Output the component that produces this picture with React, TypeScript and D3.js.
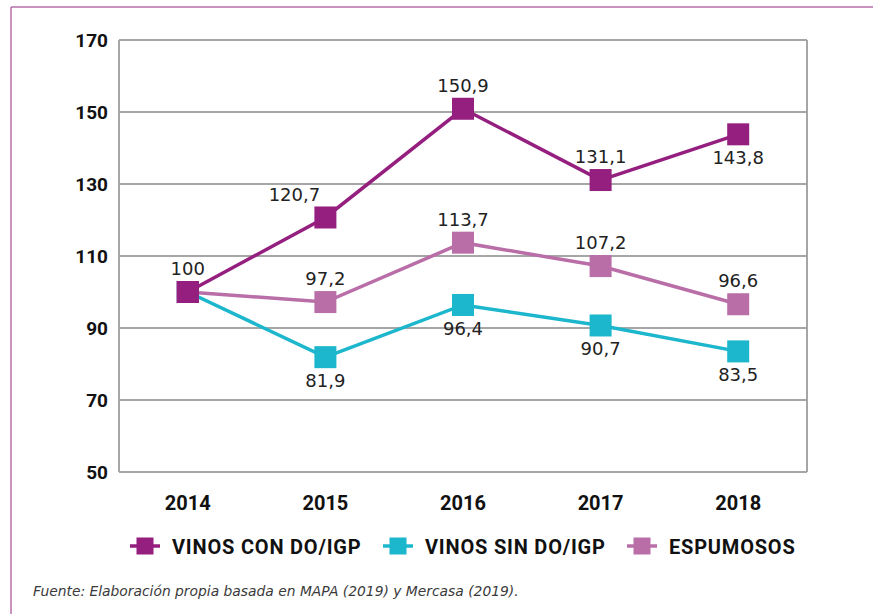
import React from "react";
import * as d3 from "d3";

const years = ["2014", "2015", "2016", "2017", "2018"];
const conDO = [100, 120.7, 150.9, 131.1, 143.8];
const sinDO = [100, 81.9, 96.4, 90.7, 83.5];
const espumosos = [100, 97.2, 113.7, 107.2, 96.6];
const yTicks = [50, 70, 90, 110, 130, 150, 170];
const seriesNames = ["VINOS CON DO/IGP", "VINOS SIN DO/IGP", "ESPUMOSOS"];
const footnote = "Fuente: Elaboración propia basada en MAPA (2019) y Mercasa (2019).";

const conLabelPos = ["above", "aboveLeft", "above", "above", "below"];
const sinLabelPos = [null, "below", "below", "below", "below"];
const espLabelPos = [null, "above", "above", "above", "above"];

const W = 873, H = 614;
const m = { left: 119, right: 807, top: 40, bottom: 472 };
const COLORS = ["#951f7f", "#1cb6cd", "#b96ea8"];

export default function App() {
  const x = d3.scaleBand<string>().domain(years).range([m.left, m.right]);
  const cx = (y: string) => (x(y) as number) + x.bandwidth() / 2;
  const yS = d3.scaleLinear().domain([50, 170]).range([m.bottom, m.top]);
  const line = d3.line<number>().x((_, i) => cx(years[i])).y((d) => yS(d));
  const fmt = (v: number) => String(v).replace(".", ",");

  const series = [
    { vals: espumosos, color: COLORS[2], pos: espLabelPos },
    { vals: sinDO, color: COLORS[1], pos: sinLabelPos },
    { vals: conDO, color: COLORS[0], pos: conLabelPos },
  ];
  const ms = 22;
  const font = "Roboto, 'DejaVu Sans', sans-serif";
  const labelFont = "'DejaVu Sans', sans-serif";

  return (
    <svg width={W} height={H} style={{ position: "absolute", left: 0, top: 0, background: "#fff" }}>
      <line x1={11} y1={7} x2={W} y2={7} stroke="#b96ea8" strokeWidth={1.5} />
      <line x1={11} y1={7} x2={11} y2={H} stroke="#b96ea8" strokeWidth={1.5} />
      {yTicks.map((t) => (
        <g key={t}>
          <line x1={m.left} x2={m.right} y1={yS(t)} y2={yS(t)} stroke="#a6a6a6" strokeWidth={2} />
          <text x={m.left - 11} y={yS(t) + 7} textAnchor="end" fontFamily={font} fontWeight={700} fontSize={19} fill="#111">
            {t}
          </text>
        </g>
      ))}
      <line x1={m.left} x2={m.left} y1={m.top} y2={m.bottom} stroke="#a6a6a6" strokeWidth={2} />
      <line x1={m.right} x2={m.right} y1={m.top} y2={m.bottom} stroke="#a6a6a6" strokeWidth={2} />
      {years.map((yr) => (
        <text key={yr} x={cx(yr)} y={510} textAnchor="middle" fontFamily={font} fontWeight={700} fontSize={20} fill="#111">
          {yr}
        </text>
      ))}
      {series.map((s, si) => (
        <path key={si} d={line(s.vals) as string} fill="none" stroke={s.color} strokeWidth={3.5} />
      ))}
      {series.map((s, si) =>
        s.vals.map((v, i) => (
          <rect key={si + "-" + i} x={cx(years[i]) - ms / 2} y={yS(v) - ms / 2} width={ms} height={ms} fill={s.color} />
        ))
      )}
      <rect x={cx(years[0]) - ms / 2} y={yS(conDO[0]) - ms / 2} width={ms} height={ms} fill={COLORS[0]} />
      {series.map((s, si) =>
        s.vals.map((v, i) => {
          const p = s.pos[i];
          if (!p) return null;
          let tx = cx(years[i]);
          let ty = yS(v);
          if (p === "above") ty -= 17;
          else if (p === "below") ty += 30;
          else if (p === "aboveLeft") {
            tx -= 31;
            ty -= 16;
          }
          return (
            <text key={"l" + si + i} x={tx} y={ty} textAnchor="middle" fontFamily={labelFont} fontSize={18} fill="#222">
              {fmt(v)}
            </text>
          );
        })
      )}
      {seriesNames.map((n, i) => {
        const lx = [130, 383, 627][i];
        return (
          <g key={n}>
            <line x1={lx} x2={lx + 30} y1={546} y2={546} stroke={COLORS[i]} strokeWidth={3.5} />
            <rect x={lx + 6.5} y={537.5} width={17} height={17} fill={COLORS[i]} />
            <text x={lx + 42} y={554} fontFamily={font} fontWeight={700} fontSize={20} letterSpacing={0.8} fill="#111">
              {n}
            </text>
          </g>
        );
      })}
      <text x={33} y={596} fontFamily={labelFont} fontStyle="italic" fontSize={13.85} fill="#3a3a3a">
        {footnote}
      </text>
    </svg>
  );
}
